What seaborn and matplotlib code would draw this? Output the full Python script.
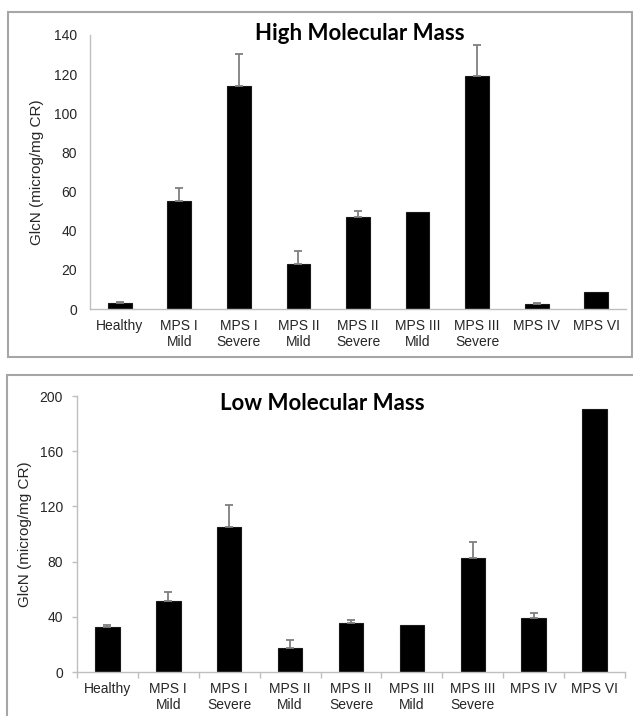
import numpy as np
import pandas as pd
import matplotlib
matplotlib.use('Agg')
import matplotlib.pyplot as plt
import matplotlib.ticker as ticker
from matplotlib.patches import Rectangle
import seaborn as sns

categories = ['Healthy', 'MPS I\nMild', 'MPS I\nSevere', 'MPS II\nMild', 'MPS II\nSevere',
              'MPS III\nMild', 'MPS III\nSevere', 'MPS IV', 'MPS VI']

high_values = [2.9, 55.0, 114.0, 22.8, 47.2, 49.6, 119.0, 2.7, 8.5]
high_errors = [0.5, 7.0, 16.5, 7.0, 2.7, 0.0, 16.0, 0.4, 0.0]

low_values = [32.6, 51.2, 105.3, 17.6, 35.7, 34.3, 82.8, 39.4, 190.4]
low_errors = [1.7, 6.6, 15.5, 5.3, 1.9, 0.0, 11.4, 3.6, 0.0]

high_ticks = [0, 20, 40, 60, 80, 100, 120, 140]
low_ticks = [0, 40, 80, 120, 160, 200]

TEXT = '#262626'
SPINE = '#bfbfbf'
BOX = '#a6a6a6'

sns.set_style('white')
plt.rcParams['font.family'] = ['Liberation Sans', 'DejaVu Sans']

fig = plt.figure(figsize = (6.33, 7.16), dpi = 100)
W, H = 633, 716


def px_axes(left, top, right, bottom):
    return fig.add_axes([left / W, 1 - bottom / H, (right - left) / W, (bottom - top) / H])


def draw_panel(ax, values, errors, ticks, ymax, with_ticks):
    df = pd.DataFrame({'group': categories, 'value': values})
    sns.barplot(data = df, x = 'group', y = 'value', color = 'black', edgecolor = '#1a1a1a',
                linewidth = 0.8, width = 0.4, errorbar = None, ax = ax, saturation = 1)
    xs = np.arange(len(categories))
    err = np.array(errors)
    has = err > 0
    ax.errorbar(xs[has], np.array(values)[has], yerr = [np.zeros(has.sum()), err[has]],
                fmt = 'none', ecolor = '#7f7f7f', elinewidth = 1.3, capsize = 2.6, capthick = 1.3,
                zorder = 1)
    ax.set_ylim(0, ymax)
    ax.set_xlim(-0.5, len(categories) - 0.5)
    ax.yaxis.set_major_locator(ticker.FixedLocator(ticks))
    ax.set_xlabel('')
    ax.set_ylabel('GlcN (microg/mg CR)', fontsize = 11, color = TEXT)
    sns.despine(ax = ax)
    for side in ['left', 'bottom']:
        ax.spines[side].set_color(SPINE)
        ax.spines[side].set_linewidth(1.0)
    if with_ticks:
        ax.tick_params(axis = 'y', length = 3.6, width = 1, color = SPINE, pad = 6.5,
                       labelsize = 10, labelcolor = TEXT, left = True)
        ax.tick_params(axis = 'x', which = 'major', length = 0, pad = 7,
                       labelsize = 10, labelcolor = TEXT)
        ax.xaxis.set_minor_locator(ticker.FixedLocator(np.arange(len(categories) + 1) - 0.5))
        ax.tick_params(axis = 'x', which = 'minor', length = 4, width = 1, color = SPINE, bottom = True)
    else:
        ax.tick_params(axis = 'y', length = 0, pad = 9.5, labelsize = 10, labelcolor = TEXT)
        ax.tick_params(axis = 'x', length = 0, pad = 7, labelsize = 10, labelcolor = TEXT)


ax_top = px_axes(90, 35, 626, 309)
draw_panel(ax_top, high_values, high_errors, high_ticks, 140, False)
ax_top.yaxis.set_label_coords(-0.0858, 0.5)

ax_bot = px_axes(77, 396, 625, 672)
draw_panel(ax_bot, low_values, low_errors, low_ticks, 200, True)
ax_bot.yaxis.set_label_coords(-0.082, 0.5)

fig.text(360 / W, 1 - 33 / H, 'High Molecular Mass', ha = 'center', va = 'center',
         fontsize = 16, fontweight = 'bold', color = 'black', family = ['Lato', 'DejaVu Sans'])
fig.text(322 / W, 1 - 403 / H, 'Low Molecular Mass', ha = 'center', va = 'center',
         fontsize = 16, fontweight = 'bold', color = 'black', family = ['Lato', 'DejaVu Sans'])

fig.patches.append(Rectangle((8 / W, 1 - 357 / H), 624 / W, 345 / H, transform = fig.transFigure,
                             fill = False, edgecolor = BOX, linewidth = 1.5))
fig.patches.append(Rectangle((7 / W, -0.05), 0.995, 1 - 375 / H + 0.05, transform = fig.transFigure,
                             fill = False, edgecolor = BOX, linewidth = 1.5))

fig.savefig('out.png', dpi = 100)
